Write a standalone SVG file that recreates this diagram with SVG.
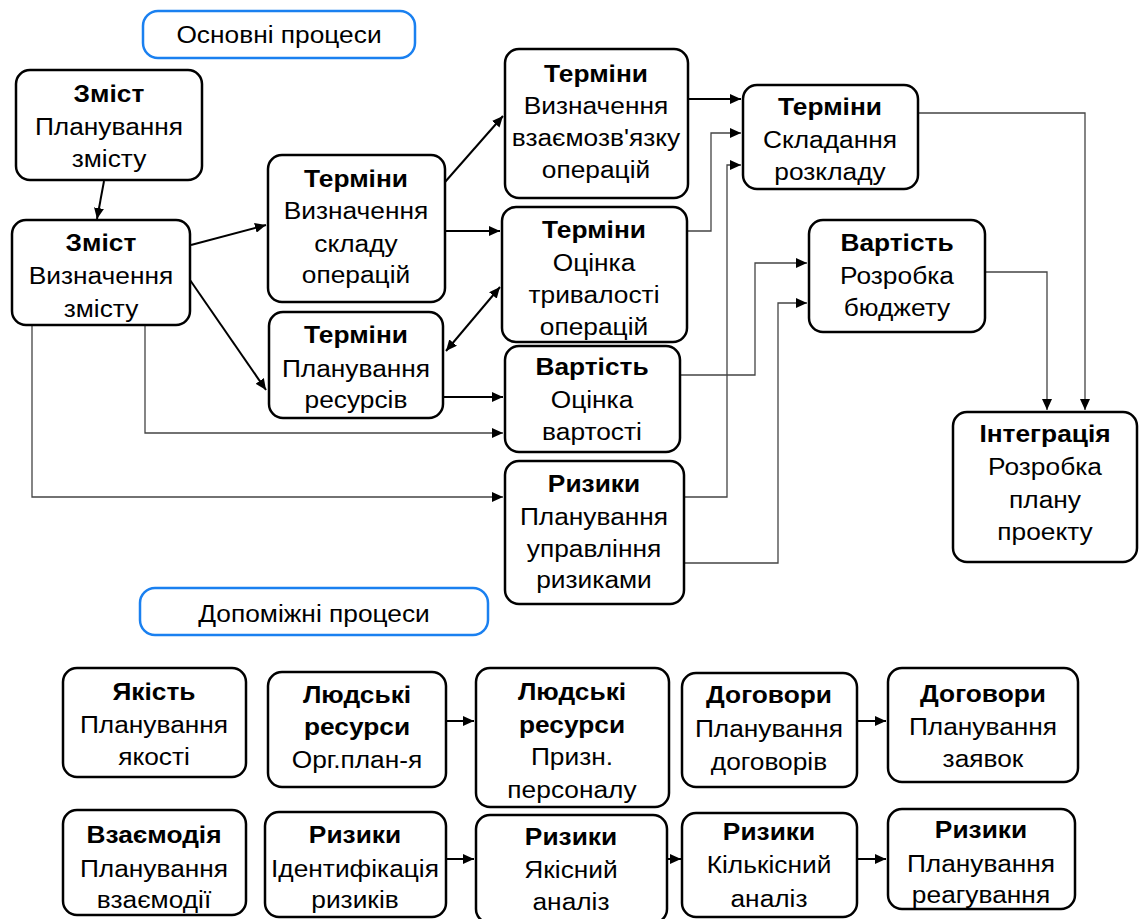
<svg xmlns="http://www.w3.org/2000/svg" width="1139" height="919" viewBox="0 0 1139 919">
<style>
.box{fill:#fff;stroke:#000;stroke-width:2.5}
.lbl{fill:#fff;stroke:#1a80f0;stroke-width:2.5}
.t{font-family:"Liberation Sans",Arial,sans-serif;font-size:23.5px;text-anchor:middle;fill:#000}
.b{font-weight:bold}
.thick{stroke:#000;stroke-width:2;fill:none}
.thin{stroke:#444;stroke-width:1.3;fill:none}
</style>
<defs>
<marker id="a" markerUnits="userSpaceOnUse" markerWidth="11" markerHeight="10" refX="11" refY="5" orient="auto"><path d="M0,0 L11,5 L0,10 z" fill="#000"/></marker>
<marker id="s" markerUnits="userSpaceOnUse" markerWidth="11" markerHeight="10" refX="0" refY="5" orient="auto"><path d="M11,0 L0,5 L11,10 z" fill="#000"/></marker>
</defs>
<rect width="1139" height="919" fill="#fff"/>

<g id="label-main">
<rect class="lbl" x="143" y="11" width="272" height="47" rx="15"/>
<g transform="translate(279,0) scale(1.12,1)"><text class="t" x="0" y="43">Основні процеси</text></g>
</g>
<g id="label-aux">
<rect class="lbl" x="140" y="588" width="348" height="47" rx="15"/>
<g transform="translate(314,0) scale(1.12,1)"><text class="t" x="0" y="622">Допоміжні процеси</text></g>
</g>

<g id="connectors">
<line class="thick" x1="104" y1="181" x2="97" y2="219" marker-end="url(#a)"/>
<line class="thick" x1="191" y1="245" x2="266" y2="225" marker-end="url(#a)"/>
<line class="thick" x1="190" y1="280" x2="266" y2="390" marker-end="url(#a)"/>
<line class="thick" x1="445" y1="182" x2="503" y2="116" marker-end="url(#a)"/>
<line class="thick" x1="445" y1="231" x2="500" y2="231" marker-end="url(#a)"/>
<line class="thick" x1="446" y1="351" x2="500" y2="287" marker-start="url(#s)" marker-end="url(#a)"/>
<line class="thick" x1="444" y1="397" x2="503" y2="397" marker-end="url(#a)"/>
<line class="thick" x1="689" y1="99" x2="741" y2="99" marker-end="url(#a)"/>
<path class="thin" d="M687,231 H711 V133 H741" marker-end="url(#a)"/>
<path class="thin" d="M684,497 H727 V165 H741" marker-end="url(#a)"/>
<path class="thin" d="M680,375 H755 V263 H807" marker-end="url(#a)"/>
<path class="thin" d="M684,563 H778 V303 H807" marker-end="url(#a)"/>
<path class="thin" d="M918,113 H1085 V410" marker-end="url(#a)"/>
<path class="thin" d="M985,272 H1047 V410" marker-end="url(#a)"/>
<path class="thin" d="M32,326 V497 H503" marker-end="url(#a)"/>
<path class="thin" d="M145,326 V433 H503" marker-end="url(#a)"/>
<line class="thick" x1="446" y1="721" x2="474" y2="721" marker-end="url(#a)"/>
<line class="thick" x1="857" y1="721" x2="886" y2="721" marker-end="url(#a)"/>
<line class="thick" x1="446" y1="859" x2="474" y2="859" marker-end="url(#a)"/>
<line class="thick" x1="667" y1="859" x2="681" y2="859" marker-end="url(#a)"/>
<line class="thick" x1="857" y1="859" x2="886" y2="859" marker-end="url(#a)"/>
</g>

<g id="n1"><rect class="box" x="16" y="70" width="186" height="110" rx="14"/>
<g transform="translate(109,0) scale(1.12,1)"><text class="t b" x="0" y="102">Зміст</text><text class="t" x="0" y="135">Планування</text><text class="t" x="0" y="167">змісту</text></g></g>

<g id="n2"><rect class="box" x="12" y="220" width="178" height="105" rx="14"/>
<g transform="translate(101,0) scale(1.12,1)"><text class="t b" x="0" y="251">Зміст</text><text class="t" x="0" y="284">Визначення</text><text class="t" x="0" y="317">змісту</text></g></g>

<g id="n3"><rect class="box" x="268" y="155" width="177" height="147" rx="14"/>
<g transform="translate(356,0) scale(1.12,1)"><text class="t b" x="0" y="187">Терміни</text><text class="t" x="0" y="219">Визначення</text><text class="t" x="0" y="252">складу</text><text class="t" x="0" y="283">операцій</text></g></g>

<g id="n4"><rect class="box" x="505" y="49" width="183" height="149" rx="14"/>
<g transform="translate(596,0) scale(1.12,1)"><text class="t b" x="0" y="82">Терміни</text><text class="t" x="0" y="114">Визначення</text><text class="t" x="0" y="146">взаємозв'язку</text><text class="t" x="0" y="178">операцій</text></g></g>

<g id="n5"><rect class="box" x="502" y="207" width="185" height="135" rx="14"/>
<g transform="translate(594,0) scale(1.12,1)"><text class="t b" x="0" y="238">Терміни</text><text class="t" x="0" y="271">Оцінка</text><text class="t" x="0" y="303">тривалості</text><text class="t" x="0" y="335">операцій</text></g></g>

<g id="n6"><rect class="box" x="743" y="85" width="175" height="104" rx="14"/>
<g transform="translate(830,0) scale(1.12,1)"><text class="t b" x="0" y="115">Терміни</text><text class="t" x="0" y="148">Складання</text><text class="t" x="0" y="180">розкладу</text></g></g>

<g id="n7"><rect class="box" x="809" y="220" width="176" height="112" rx="14"/>
<g transform="translate(897,0) scale(1.12,1)"><text class="t b" x="0" y="251">Вартість</text><text class="t" x="0" y="284">Розробка</text><text class="t" x="0" y="316">бюджету</text></g></g>

<g id="n8"><rect class="box" x="953" y="412" width="184" height="150" rx="14"/>
<g transform="translate(1045,0) scale(1.12,1)"><text class="t b" x="0" y="442">Інтеграція</text><text class="t" x="0" y="475">Розробка</text><text class="t" x="0" y="508">плану</text><text class="t" x="0" y="540">проекту</text></g></g>

<g id="n9"><rect class="box" x="269" y="312" width="174" height="106" rx="14"/>
<g transform="translate(356,0) scale(1.12,1)"><text class="t b" x="0" y="343">Терміни</text><text class="t" x="0" y="377">Планування</text><text class="t" x="0" y="408">ресурсів</text></g></g>

<g id="n10"><rect class="box" x="505" y="346" width="175" height="106" rx="14"/>
<g transform="translate(592,0) scale(1.12,1)"><text class="t b" x="0" y="375">Вартість</text><text class="t" x="0" y="408">Оцінка</text><text class="t" x="0" y="440">вартості</text></g></g>

<g id="n11"><rect class="box" x="505" y="461" width="179" height="143" rx="14"/>
<g transform="translate(594,0) scale(1.12,1)"><text class="t b" x="0" y="492">Ризики</text><text class="t" x="0" y="525">Планування</text><text class="t" x="0" y="557">управління</text><text class="t" x="0" y="588">ризиками</text></g></g>

<g id="n12"><rect class="box" x="63" y="668" width="183" height="109" rx="14"/>
<g transform="translate(154,0) scale(1.12,1)"><text class="t b" x="0" y="700">Якість</text><text class="t" x="0" y="733">Планування</text><text class="t" x="0" y="765">якості</text></g></g>

<g id="n13"><rect class="box" x="268" y="672" width="178" height="115" rx="14"/>
<g transform="translate(357,0) scale(1.12,1)"><text class="t b" x="0" y="703">Людські</text><text class="t b" x="0" y="735">ресурси</text><text class="t" x="0" y="768">Орг.план-я</text></g></g>

<g id="n14"><rect class="box" x="476" y="668" width="193" height="139" rx="14"/>
<g transform="translate(572,0) scale(1.12,1)"><text class="t b" x="0" y="700">Людські</text><text class="t b" x="0" y="733">ресурси</text><text class="t" x="0" y="765">Призн.</text><text class="t" x="0" y="798">персоналу</text></g></g>

<g id="n15"><rect class="box" x="682" y="673" width="175" height="114" rx="14"/>
<g transform="translate(769,0) scale(1.12,1)"><text class="t b" x="0" y="703">Договори</text><text class="t" x="0" y="737">Планування</text><text class="t" x="0" y="770">договорів</text></g></g>

<g id="n16"><rect class="box" x="888" y="668" width="190" height="114" rx="14"/>
<g transform="translate(983,0) scale(1.12,1)"><text class="t b" x="0" y="702">Договори</text><text class="t" x="0" y="735">Планування</text><text class="t" x="0" y="767">заявок</text></g></g>

<g id="n17"><rect class="box" x="63" y="810" width="183" height="105" rx="14"/>
<g transform="translate(154,0) scale(1.12,1)"><text class="t b" x="0" y="843">Взаємодія</text><text class="t" x="0" y="877">Планування</text><text class="t" x="0" y="908">взаємодії</text></g></g>

<g id="n18"><rect class="box" x="265" y="812" width="181" height="105" rx="14"/>
<g transform="translate(355,0) scale(1.12,1)"><text class="t b" x="0" y="843">Ризики</text><text class="t" x="0" y="877">Ідентифікація</text><text class="t" x="0" y="908">ризиків</text></g></g>

<g id="n19"><rect class="box" x="476" y="815" width="191" height="108" rx="14"/>
<g transform="translate(571,0) scale(1.12,1)"><text class="t b" x="0" y="845">Ризики</text><text class="t" x="0" y="878">Якісний</text><text class="t" x="0" y="910">аналіз</text></g></g>

<g id="n20"><rect class="box" x="682" y="813" width="175" height="104" rx="14"/>
<g transform="translate(769,0) scale(1.12,1)"><text class="t b" x="0" y="840">Ризики</text><text class="t" x="0" y="873">Кількісний</text><text class="t" x="0" y="907">аналіз</text></g></g>

<g id="n21"><rect class="box" x="888" y="809" width="187" height="100" rx="14"/>
<g transform="translate(981,0) scale(1.12,1)"><text class="t b" x="0" y="838">Ризики</text><text class="t" x="0" y="872">Планування</text><text class="t" x="0" y="903">реагування</text></g></g>
</svg>
